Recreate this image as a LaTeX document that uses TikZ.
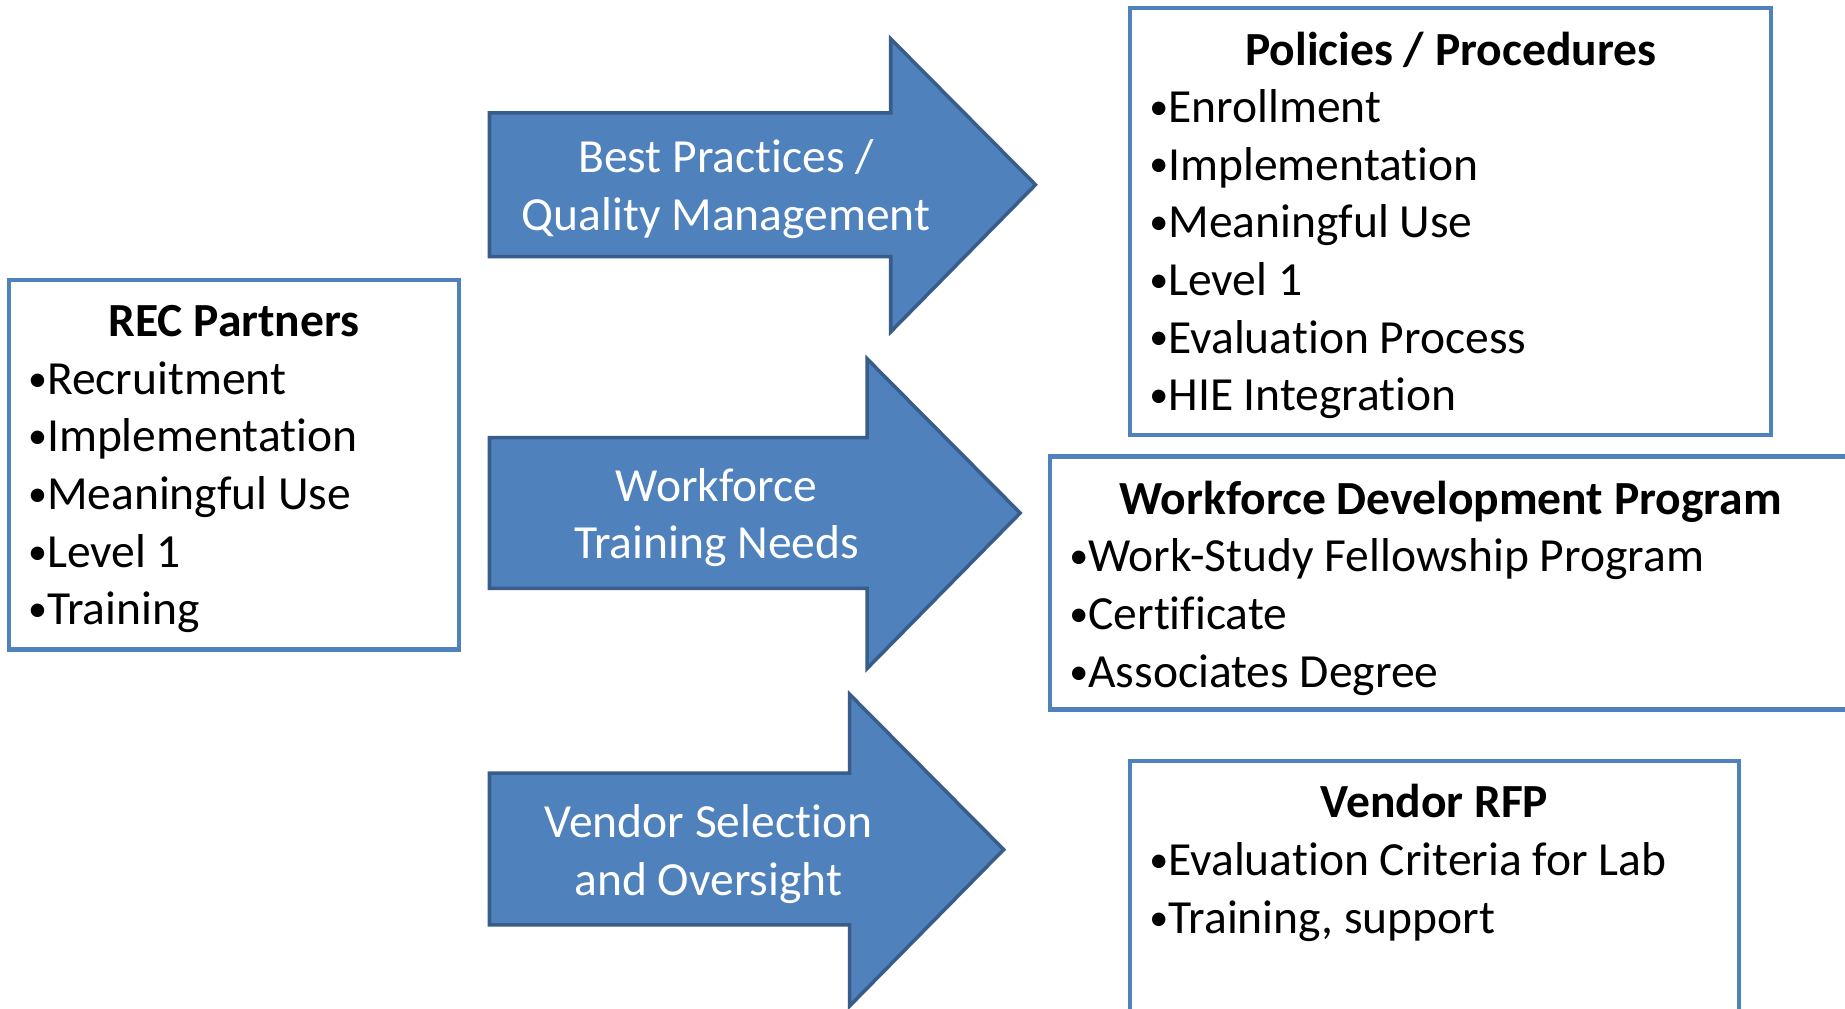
\documentclass[tikz,border=0pt]{standalone}
\usepackage{fontspec}
\usepackage{graphicx}
\setmainfont[Ligatures=NoCommon]{Carlito}
\definecolor{boxblue}{RGB}{79,129,189}
\definecolor{arrowfill}{RGB}{79,129,189}
\definecolor{arrowline}{RGB}{56,93,138}
\newcommand\bul{\makebox[0.46em][r]{\raisebox{0.065em}{\scalebox{0.8}{•}}}}
\tikzset{
  frame/.style={draw=boxblue, line width=1.75pt, fill=white},
  bigarrow/.style={draw=arrowline, fill=arrowfill, line width=1.5pt, line join=miter},
  txt/.style={inner sep=0pt, font=\fontsize{20.2pt}{24.5pt}\selectfont},
  title/.style={txt, anchor=base, font=\fontsize{20.2pt}{24.5pt}\selectfont\bfseries},
  item/.style={txt, anchor=base west},
  atext/.style={txt, anchor=base, text=white},
}
\begin{document}
\begin{tikzpicture}[x=0.5pt, y=-0.5pt]
\useasboundingbox (0,0) rectangle (1568,857.5);
\clip (0,0) rectangle (1568,857.5);
\fill[white] (0,0) rectangle (1568,857.5);

% boxes
\draw[frame] (8,238) rectangle (390,552);
\draw[frame] (960,7) rectangle (1505,370);
\draw[frame] (892,388) rectangle (1590,603);
\draw[frame] (960,647) rectangle (1478,880);

% arrows
\draw[bigarrow] (416,96) -- (757,96) -- (757,33) -- (880,157) -- (757,282) -- (757,218) -- (416,218) -- cycle;
\draw[bigarrow] (416,372) -- (737,372) -- (737,305) -- (867,436) -- (737,568) -- (737,500) -- (416,500) -- cycle;
\draw[bigarrow] (416,657) -- (722,657) -- (722,590) -- (853,722) -- (722,855) -- (722,786) -- (416,786) -- cycle;

% arrow texts
\node[atext] (a1l1) at (617,147) {Best Practices /};
\node[atext] (a1l2) at (617,196) {Quality Management};
\node[atext] (a2l1) at (609,426) {Workforce};
\node[atext] (a2l2) at (609,475) {Training Needs};
\node[atext] (a3l1) at (602,712) {Vendor Selection};
\node[atext] (a3l2) at (602,761) {and Oversight};

% REC Partners
\node[title] (rect) at (199,286) {REC Partners};
\node[item] (rec1) at (21,335) {\bul Recruitment};
\node[item] (rec2) at (21,384) {\bul Implementation};
\node[item] (rec3) at (21,433) {\bul Meaningful Use};
\node[item] (rec4) at (21,482) {\bul Level 1};
\node[item] (rec5) at (21,531) {\bul Training};

% Policies / Procedures
\node[title] (polt) at (1233,56) {Policies / Procedures};
\node[item] (pol1) at (974,104) {\bul Enrollment};
\node[item] (pol2) at (974,153) {\bul Implementation};
\node[item] (pol3) at (974,202) {\bul Meaningful Use};
\node[item] (pol4) at (974,251) {\bul Level 1};
\node[item] (pol5) at (974,300) {\bul Evaluation Process};
\node[item] (pol6) at (974,349) {\bul HIE Integration};

% Workforce Development Program
\node[title] (wdpt) at (1233,437) {Workforce Development Program};
\node[item] (wdp1) at (906,486) {\bul Work-Study Fellowship Program};
\node[item] (wdp2) at (906,535) {\bul Certificate};
\node[item] (wdp3) at (906,584) {\bul Associates Degree};

% Vendor RFP
\node[title] (rfpt) at (1219,695) {Vendor RFP};
\node[item] (rfp1) at (974,744) {\bul Evaluation Criteria for Lab};
\node[item] (rfp2) at (974,793) {\bul Training, support};
\end{tikzpicture}
\end{document}
